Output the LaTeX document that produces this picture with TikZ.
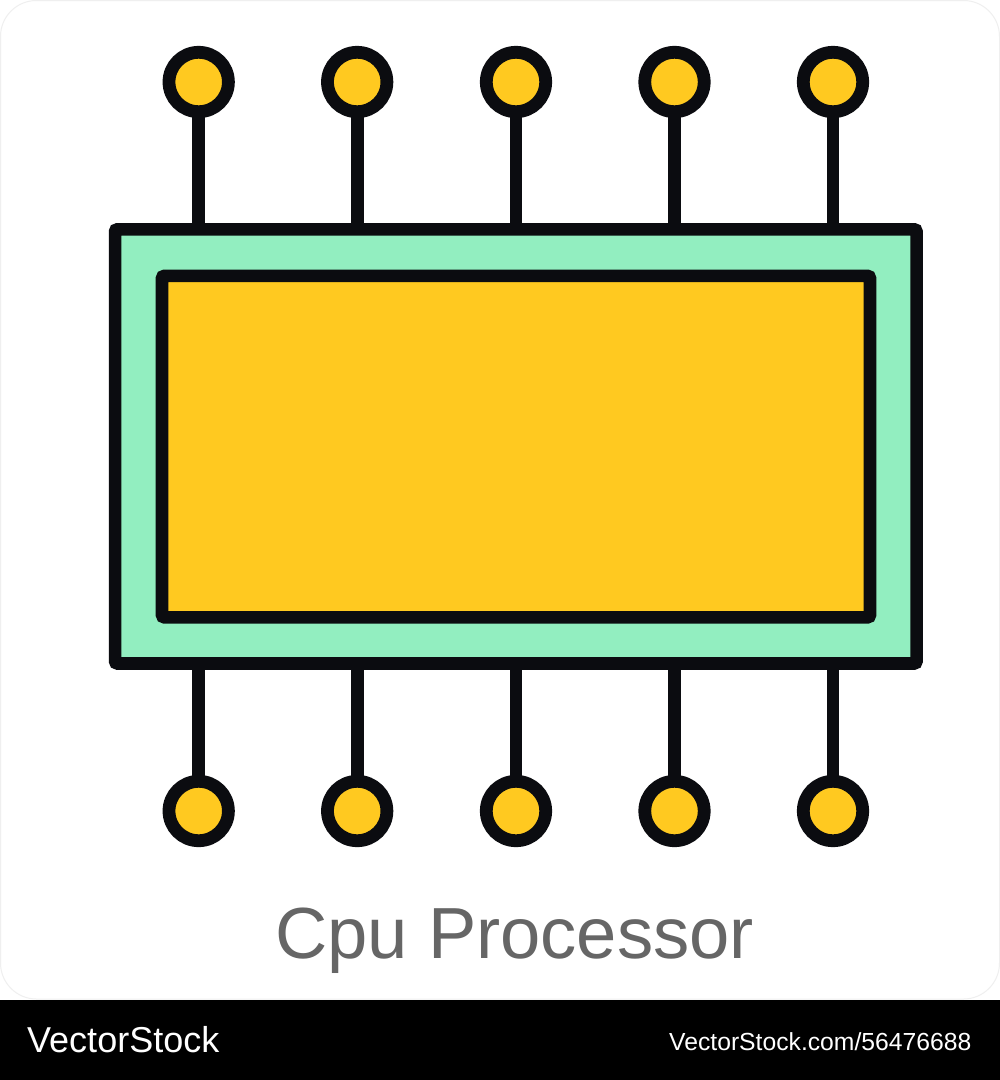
\documentclass[tikz,border=0pt]{standalone}
\usepackage{fontspec}
\setmainfont{Liberation Sans}
\definecolor{ink}{HTML}{0B0C10}
\definecolor{amber}{HTML}{FFC920}
\definecolor{mint}{HTML}{92EEC0}
\definecolor{capt}{HTML}{666666}
\definecolor{frame}{HTML}{EFEFEF}
\tikzset{
  x=1pt,y=-1pt,
  pin/.style={circle,draw=ink,fill=amber,line width=12.8pt,minimum size=59.4pt,inner sep=0pt,outer sep=0pt},
  board/.style={rectangle,draw=ink,line width=12.6pt,rounded corners=2.5pt,inner sep=0pt,outer sep=0pt},
  lead/.style={draw=ink,line width=12.8pt,line cap=butt},
}
\begin{document}
\begin{tikzpicture}
\useasboundingbox (0,0) rectangle (1000,1080);
\fill[white] (0,0) rectangle (1000,1080);
\draw[frame,line width=1pt,rounded corners=36pt] (0.5,0.5) rectangle (999.5,999);
\fill[black] (0,1000) rectangle (1000,1080);
\node[board,fill=mint,minimum width=801.5pt,minimum height=434.2pt] (pkg) at (515.8,446.4) {};
\node[board,fill=amber,minimum width=708pt,minimum height=341.4pt] (die) at (516,446.6) {};
\foreach \n/\x in {1/198.7,2/357.2,3/516,4/674.5,5/833}{
  \node[pin] (t\n) at (\x,82) {};
  \node[pin] (b\n) at (\x,811) {};
  \draw[lead] (t\n.south) -- (t\n.south |- pkg.north);
  \draw[lead] (b\n.north) -- (b\n.north |- pkg.south);
}
\node[anchor=base west,inner sep=0pt,text=capt,font=\fontsize{72.4}{73}\selectfont] (title) at (275,958) {Cpu Processor};
\node[anchor=base west,inner sep=0pt,text=white,font=\fontsize{36}{37}\selectfont] (brand) at (27,1052) {VectorStock};
\node[anchor=base west,inner sep=0pt,text=white,font=\fontsize{24.7}{25}\selectfont] (ref) at (669,1050.5) {VectorStock.com/56476688};
\end{tikzpicture}
\end{document}
